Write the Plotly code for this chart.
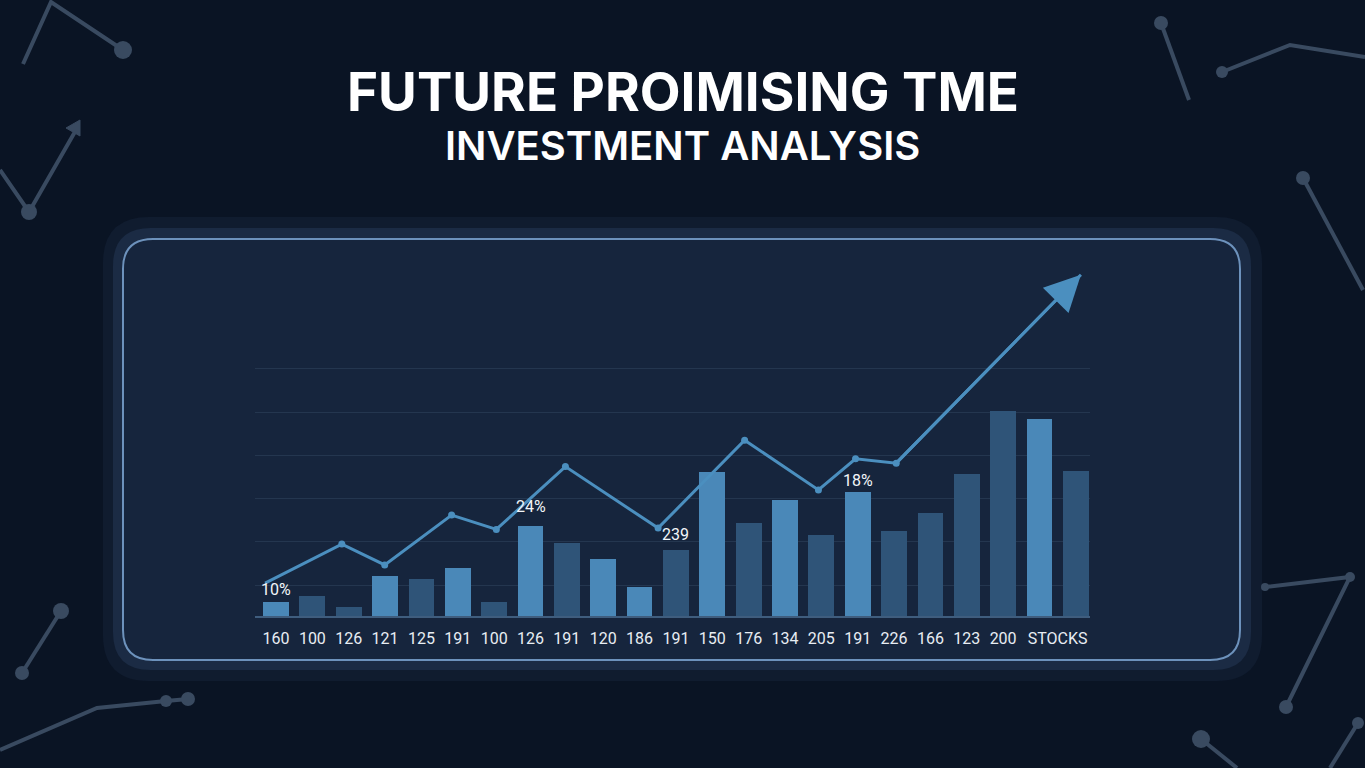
import plotly.graph_objects as go

W, H = 1365, 768

# ---------------- data ----------------
x_labels = ["160", "100", "126", "121", "125", "191", "100", "126", "191", "120", "186",
            "191", "150", "176", "134", "205", "191", "226", "166", "123", "200", "STOCKS"]
bar_values = [3.2, 4.6, 2.1, 9.2, 8.5, 11.1, 3.2, 20.8, 16.9, 13.2, 6.7,
              15.2, 33.3, 21.5, 26.8, 18.7, 28.6, 19.6, 23.8, 32.8, 47.3, 45.5, 33.5]
bar_shade = ["L", "D", "D", "L", "D", "L", "D", "L", "D", "L", "L",
             "D", "L", "D", "L", "D", "L", "D", "D", "D", "D", "L", "D"]
trend_x = [-0.3, 1.81, 2.99, 4.83, 6.06, 7.96, 10.51, 12.89, 14.92, 15.94, 17.06, 22.14]
trend_y = [7.6, 16.6, 11.8, 23.3, 20.0, 34.5, 20.3, 40.6, 29.1, 36.3, 35.3, 78.8]
note_text = ["10%", "24%", "239", "18%"]
note_bar = [0, 7, 11, 16]
note_y = [6.2, 25.4, 18.9, 31.2]
grid_vals = [7.1, 17.1, 27.1, 37.1, 47.1, 57.1]

# ---------------- styling ----------------
BG = "#0a1424"
LIGHT = "#4a88b8"
DARK = "#2f5478"
LINE = "#4b8fbf"
DECO = "#394a60"

def px(x):
    return x / W

def py(y):
    return 1 - y / H

n = len(bar_values)
bar_x = list(range(n))
tickvals = list(range(len(x_labels) - 1)) + [(n - 2 + n - 1) / 2]

fig = go.Figure()
fig.add_trace(go.Bar(
    x=bar_x, y=bar_values, width=0.71,
    marker=dict(color=[LIGHT if s == "L" else DARK for s in bar_shade], line=dict(width=0)),
    hoverinfo="skip",
))
fig.add_trace(go.Scatter(
    x=trend_x, y=trend_y, mode="lines",
    line=dict(color=LINE, width=3), hoverinfo="skip",
))
fig.add_trace(go.Scatter(
    x=trend_x[1:-1], y=trend_y[1:-1], mode="markers",
    marker=dict(color=LINE, size=7), hoverinfo="skip",
))

shapes = []

def rrect(x0, y0, x1, y1, r, fill, line_color=None, lw=0):
    p = (f"M {px(x0 + r)} {py(y0)} L {px(x1 - r)} {py(y0)} Q {px(x1)} {py(y0)} {px(x1)} {py(y0 + r)} "
         f"L {px(x1)} {py(y1 - r)} Q {px(x1)} {py(y1)} {px(x1 - r)} {py(y1)} "
         f"L {px(x0 + r)} {py(y1)} Q {px(x0)} {py(y1)} {px(x0)} {py(y1 - r)} "
         f"L {px(x0)} {py(y0 + r)} Q {px(x0)} {py(y0)} {px(x0 + r)} {py(y0)} Z")
    shapes.append(dict(type="path", xref="paper", yref="paper", path=p, fillcolor=fill,
                       line=dict(color=line_color or fill, width=lw), layer="below"))

# card layers
rrect(103, 217, 1262, 681, 46, "#101c2f")
rrect(113, 228, 1251, 670, 38, "#1b2b44")
rrect(123, 239, 1240, 660, 30, "#16253d", "#6d92bc", 2)

def polyline(pts, width=4):
    p = "M " + " L ".join(f"{px(a)} {py(b)}" for a, b in pts)
    shapes.append(dict(type="path", xref="paper", yref="paper", path=p,
                       line=dict(color=DECO, width=width), layer="below"))

def dot(cx, cy, r):
    shapes.append(dict(type="circle", xref="paper", yref="paper",
                       x0=px(cx - r), x1=px(cx + r), y0=py(cy + r), y1=py(cy - r),
                       fillcolor=DECO, line=dict(width=0), layer="below"))

# decorations top-left
polyline([(23, 64), (51, 2), (123, 50)])
dot(123, 50, 9)
polyline([(0, 170), (29, 212), (76, 130)])
dot(29, 212, 8)
shapes.append(dict(type="path", xref="paper", yref="paper",
                   path=f"M {px(80)} {py(120)} L {px(66)} {py(128)} L {px(80)} {py(136)} Z",
                   fillcolor=DECO, line=dict(color=DECO, width=1), layer="below"))
# top-right
polyline([(1161, 23), (1189, 100)])
dot(1161, 23, 7)
polyline([(1222, 72), (1290, 45), (1365, 57)])
dot(1222, 72, 6)
polyline([(1303, 178), (1363, 290)])
dot(1303, 178, 7)
# bottom-left
polyline([(61, 611), (22, 673)])
dot(61, 611, 8)
dot(22, 673, 7)
polyline([(0, 750), (97, 708), (166, 701), (188, 699)])
dot(166, 701, 6)
dot(188, 699, 7)
# bottom-right
polyline([(1265, 587), (1350, 577), (1286, 707)])
dot(1350, 577, 5)
dot(1286, 707, 7)
dot(1265, 587, 4)
polyline([(1201, 739), (1237, 768)])
dot(1201, 739, 9)
polyline([(1358, 723), (1330, 768)])
dot(1358, 723, 6)

annotations = [
    dict(text="FUTURE PROIMISING TME", x=0.5, y=py(92), xref="paper", yref="paper",
         showarrow=False, font=dict(family="Inter", size=53, color="#ffffff", weight=700),
         xanchor="center", yanchor="middle"),
    dict(text="INVESTMENT ANALYSIS", x=0.5, y=py(146), xref="paper", yref="paper",
         showarrow=False, font=dict(family="Inter", size=40, color="#ffffff", weight=600),
         xanchor="center", yanchor="middle"),
]
for t, b, yv in zip(note_text, note_bar, note_y):
    annotations.append(dict(text=t, x=b, y=yv, xref="x", yref="y", showarrow=False,
                            font=dict(family="Roboto", size=16, color="#f2f5f9"),
                            xanchor="center", yanchor="middle"))
annotations.append(dict(x=trend_x[-1], y=trend_y[-1], ax=trend_x[-2], ay=trend_y[-2],
                        xref="x", yref="y", axref="x", ayref="y", text="", showarrow=True,
                        arrowhead=2, arrowsize=2.4, arrowwidth=3, arrowcolor=LINE))

fig.update_layout(
    width=W, height=H,
    margin=dict(l=0, r=0, t=0, b=0),
    paper_bgcolor=BG, plot_bgcolor="rgba(0,0,0,0)",
    showlegend=False, bargap=0,
    shapes=shapes, annotations=annotations,
    xaxis=dict(domain=[px(255), px(1090)], range=[-0.578, 22.39],
               tickvals=tickvals, ticktext=x_labels, showgrid=False, zeroline=False,
               showline=True, linecolor="#3f5d7e", linewidth=2,
               ticks="outside", ticklen=7, tickcolor="rgba(0,0,0,0)",
               tickfont=dict(family="Roboto", size=16, color="#e8edf3")),
    yaxis=dict(domain=[py(616), py(270)], range=[0, 79.9],
               tickvals=grid_vals, showticklabels=False, showgrid=True,
               gridcolor="#24364f", gridwidth=1, zeroline=False),
)

fig.write_html("out.html",
               config={"displayModeBar": False},
               post_script="document.body.style.margin='0';document.body.style.padding='0';"
                           "document.body.style.background='#0a1424';")
